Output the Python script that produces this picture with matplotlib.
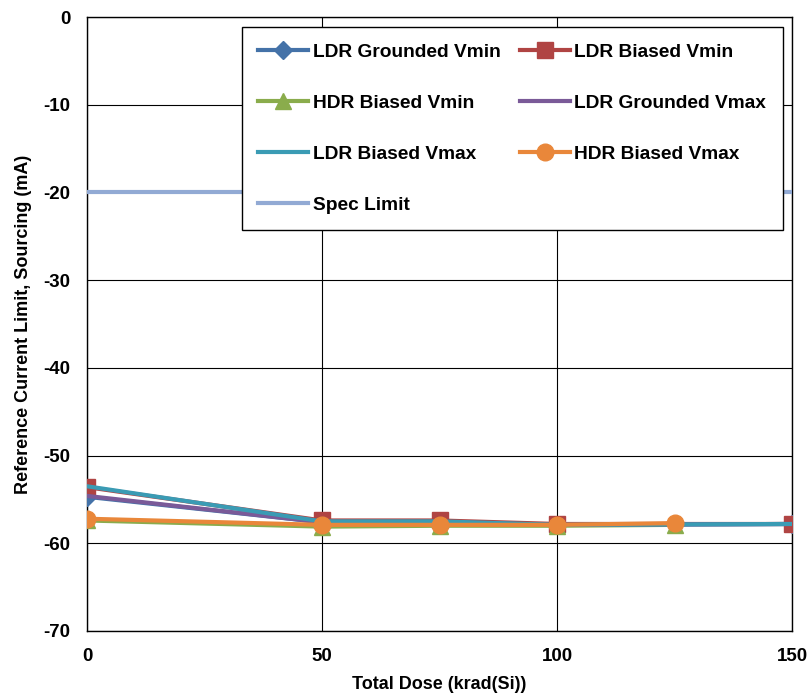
import matplotlib
matplotlib.use('Agg')
from matplotlib import pyplot as plt

plt.rcParams['font.family'] = 'Liberation Sans'
plt.rcParams['font.weight'] = 'bold'
plt.rcParams['axes.unicode_minus'] = False

ldr_dose = [0, 50, 75, 100, 150]
hdr_dose = [0, 50, 75, 100, 125]

ldr_gnd_vmin = [-54.7, -57.6, -57.6, -57.9, -57.8]
ldr_bias_vmin = [-53.6, -57.4, -57.4, -57.8, -57.8]
hdr_bias_vmin = [-57.4, -58.1, -58.0, -58.0, -57.9]
ldr_gnd_vmax = [-54.6, -57.6, -57.6, -57.9, -57.8]
ldr_bias_vmax = [-53.5, -57.5, -57.5, -57.9, -57.8]
hdr_bias_vmax = [-57.2, -57.9, -57.9, -57.9, -57.7]
spec_dose = [0, 150]
spec_limit = [-20, -20]

if __name__ == '__main__':
    fig = plt.figure(figsize=(8.09, 6.97), dpi=100)
    ax = fig.add_axes([87 / 809, 1 - 631 / 697, 705 / 809, 614 / 697])

    ax.plot(ldr_dose, ldr_gnd_vmin, color='#4472a8', lw=3, marker='D', ms=9, label='LDR Grounded Vmin', zorder=3)
    ax.plot(ldr_dose, ldr_bias_vmin, color='#b04443', lw=3, marker='s', ms=11, label='LDR Biased Vmin', zorder=3)
    ax.plot(hdr_dose, hdr_bias_vmin, color='#8aac4c', lw=3, marker='^', ms=11, label='HDR Biased Vmin', zorder=3)
    ax.plot(ldr_dose, ldr_gnd_vmax, color='#7a5a98', lw=3, label='LDR Grounded Vmax', zorder=3)
    ax.plot(ldr_dose, ldr_bias_vmax, color='#3a9bb4', lw=3, label='LDR Biased Vmax', zorder=3)
    ax.plot(hdr_dose, hdr_bias_vmax, color='#e9873a', lw=3, marker='o', ms=12, label='HDR Biased Vmax', zorder=3)
    ax.plot(spec_dose, spec_limit, color='#92aad4', lw=3, label='Spec Limit', zorder=3)

    ax.set_xlim(0, 150)
    ax.set_ylim(-70, 0)
    ax.set_xticks([0, 50, 100, 150])
    ax.set_yticks(range(-70, 1, 10))
    ax.grid(True, color='black', lw=0.8)
    ax.set_axisbelow(True)
    ax.tick_params(labelsize=13.5, length=0, pad=12)
    for spine in ax.spines.values():
        spine.set_linewidth(1)

    ax.set_xlabel('Total Dose (krad(Si))', fontsize=13, fontweight='bold', labelpad=8)
    ax.set_ylabel('Reference Current Limit, Sourcing (mA)', fontsize=13, fontweight='bold', labelpad=8)

    # row-major order like the original legend
    handles, labels = ax.get_legend_handles_labels()
    order = [0, 2, 4, 6, 1, 3, 5]
    leg = ax.legend([handles[i] for i in order], [labels[i] for i in order],
                    ncol=2, loc='upper left',
                    bbox_to_anchor=(155 / 705, 1 - 10 / 614),
                    fontsize=13.8, frameon=True, fancybox=False, edgecolor='black',
                    framealpha=1, handlelength=2.6, handletextpad=0.25,
                    labelspacing=1.75, columnspacing=1.0, borderpad=0.85,
                    borderaxespad=0)
    leg.get_frame().set_linewidth(1)
    leg.set_zorder(5)

    plt.savefig('out.png', dpi=100)
